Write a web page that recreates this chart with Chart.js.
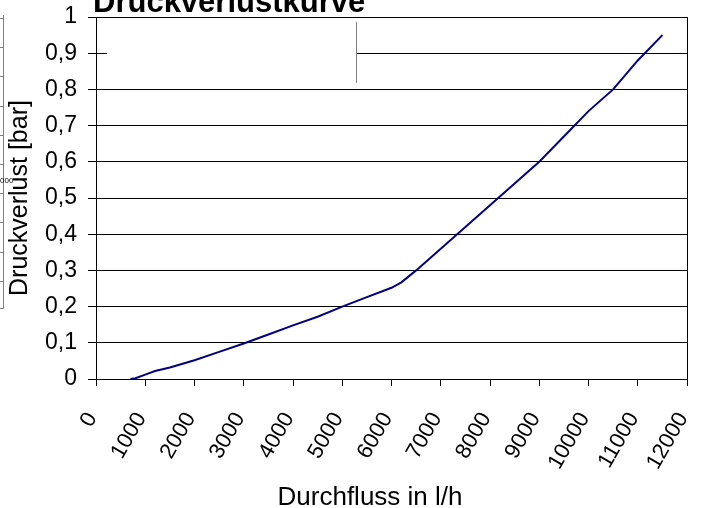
<!DOCTYPE html>
<html>
<head>
<meta charset="utf-8">
<title>Druckverlustkurve</title>
<script src="https://cdn.jsdelivr.net/npm/chart.js@4/dist/chart.umd.min.js"></script>
<style>
  body { margin: 0; background: #fff; }
  #chart { display: block; }
</style>
</head>
<body>
<canvas id="chart" width="701" height="508"></canvas>
<script>
const flow = [700, 800, 1000, 1200, 1500, 2000, 2500, 3000, 3500, 4000, 4500, 5000, 5500, 6000,
    6200, 6500, 7000, 7500, 8000, 8500, 9000, 9500, 10000, 10500, 11000, 11500];
const pressureLoss = [0, 0.002, 0.012, 0.022, 0.032, 0.052, 0.075, 0.098, 0.123, 0.148, 0.172, 0.2, 0.226, 0.252,
    0.267, 0.3, 0.36, 0.42, 0.48, 0.54, 0.6, 0.67, 0.74, 0.8, 0.88, 0.95];
const xTicks = [0, 1000, 2000, 3000, 4000, 5000, 6000, 7000, 8000, 9000, 10000, 11000, 12000];

const FONT = 'Arial, "Liberation Sans", sans-serif';

function commaDecimal(v) {
    const r = Math.round(v * 10) / 10;
    return Number.isInteger(r) ? String(r) : r.toFixed(1).replace('.', ',');
}

// headline, x caption and the leftovers around the plot frame
const captions = {
    id: 'captions',
    beforeDatasetsDraw(chart) {
        const ctx = chart.ctx;
        ctx.save();
        // blank panel over the 0,9 line
        ctx.fillStyle = '#fff';
        ctx.fillRect(107, 22, 250, 61);
        ctx.strokeStyle = '#808080';
        ctx.lineWidth = 1;
        ctx.beginPath();
        ctx.moveTo(356.5, 22);
        ctx.lineTo(356.5, 83);
        ctx.stroke();
        ctx.restore();
    },
    afterDraw(chart) {
        const ctx = chart.ctx;
        ctx.save();
        ctx.fillStyle = '#000';
        ctx.font = 'bold 31px ' + FONT;
        ctx.textAlign = 'left';
        ctx.textBaseline = 'alphabetic';
        ctx.fillText('Druckverlustkurve', 93, 12);

        ctx.font = '26px ' + FONT;
        ctx.textAlign = 'center';
        ctx.fillText('Durchfluss in l/h', 370, 505);

        // edge of the neighbouring panel
        ctx.strokeStyle = '#808080';
        ctx.lineWidth = 1;
        ctx.beginPath();
        ctx.moveTo(3.5, 15);
        ctx.lineTo(3.5, 308.5);
        ctx.lineTo(0, 308.5);
        for (let y = 18; y <= 282; y += 29.2) {
            ctx.moveTo(0, Math.round(y) + 0.5);
            ctx.lineTo(3.5, Math.round(y) + 0.5);
        }
        ctx.stroke();
        ctx.font = '8px ' + FONT;
        ctx.textAlign = 'left';
        ctx.fillText('000', 0, 183);
        ctx.restore();
    }
};

const data = {
    datasets: [{
        label: 'Druckverlust',
        data: flow.map((x, i) => ({ x: x, y: pressureLoss[i] })),
        borderColor: '#000080',
        borderWidth: 2,
        pointRadius: 0,
        fill: false,
        tension: 0
    }]
};

const config = {
    type: 'line',
    data: data,
    plugins: [captions],
    options: {
        responsive: false,
        animation: false,
        layout: {
            padding: { top: 17, right: 14, left: 0, bottom: 0 }
        },
        plugins: {
            legend: { display: false },
            title: { display: false },
            tooltip: { enabled: false }
        },
        scales: {
            x: {
                type: 'linear',
                min: 0,
                max: 12000,
                afterBuildTicks: axis => {
                    axis.ticks = xTicks.map(v => ({ value: v }));
                },
                afterFit: axis => {
                    axis.height = 129;
                    axis.paddingLeft = 0;
                    axis.paddingRight = 0;
                },
                ticks: {
                    autoSkip: false,
                    minRotation: 60,
                    maxRotation: 60,
                    padding: 22,
                    labelOffset: -4,
                    color: '#000',
                    font: { family: FONT, size: 22 },
                    callback: v => String(v)
                },
                grid: {
                    color: c => (c.tick && c.tick.value === 12000 ? '#000' : 'rgba(0,0,0,0)'),
                    tickColor: '#000',
                    tickLength: 7,
                    lineWidth: 1
                },
                border: { display: true, color: '#000', width: 1 },
                title: { display: false }
            },
            y: {
                min: 0,
                max: 1,
                afterFit: axis => {
                    axis.width = 96;
                    axis.paddingTop = 0;
                    axis.paddingBottom = 0;
                },
                ticks: {
                    stepSize: 0.1,
                    padding: 11,
                    color: '#000',
                    font: { family: FONT, size: 23 },
                    callback: v => commaDecimal(v)
                },
                grid: {
                    color: '#000',
                    tickColor: '#000',
                    tickLength: 8,
                    lineWidth: 1
                },
                border: { display: true, color: '#000', width: 1 },
                title: {
                    display: true,
                    text: 'Druckverlust [bar]',
                    color: '#000',
                    font: { family: FONT, size: 25 },
                    padding: { top: 5, bottom: 0 }
                }
            }
        }
    }
};

const ctx = document.getElementById('chart').getContext('2d');
new Chart(ctx, config);
</script>
</body>
</html>
